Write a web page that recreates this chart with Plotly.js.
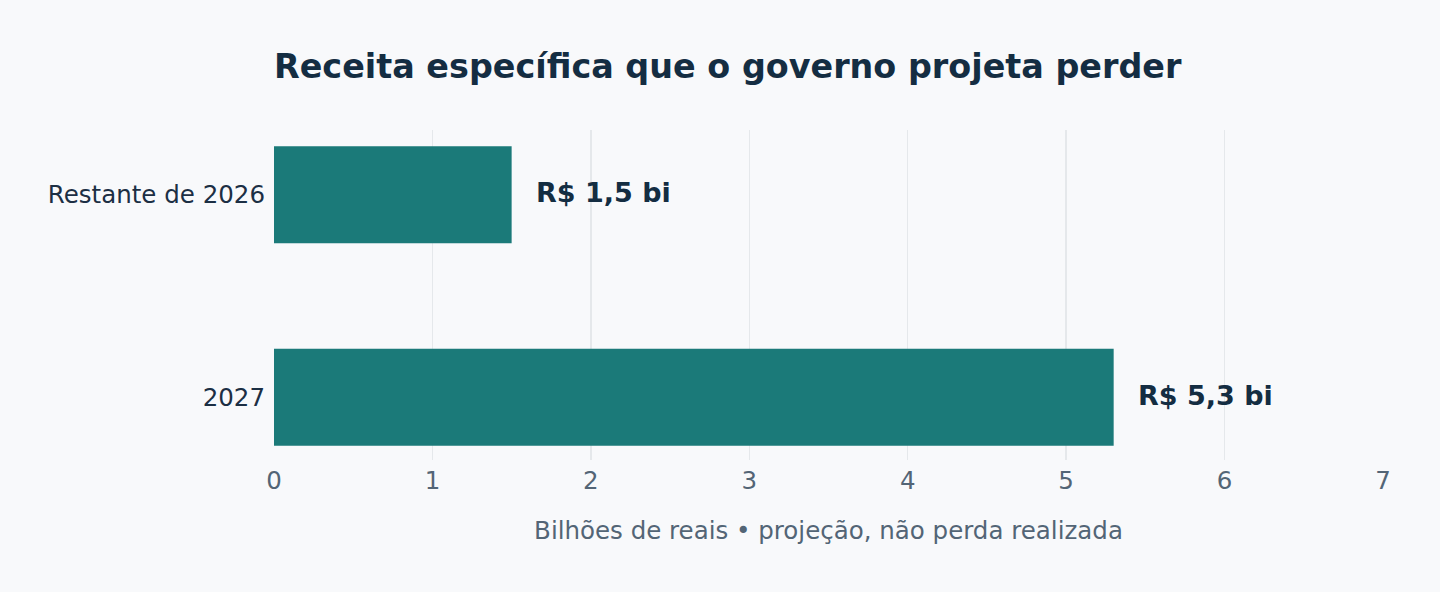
<!DOCTYPE html>
<html>
<head>
<meta charset="utf-8">
<script src="https://cdn.plot.ly/plotly-3.0.1.min.js"></script>
<style>
  html, body { margin: 0; padding: 0; background: #f8f9fb; }
  #chart { width: 1440px; height: 592px; }
</style>
</head>
<body>
<div id="chart"></div>
<script>
var categories = ["Restante de 2026", "2027"];
var values = [1.5, 5.3];
var valueLabels = ["R$ 1,5 bi", "R$ 5,3 bi"];
var xTicks = [0, 1, 2, 3, 4, 5, 6, 7];

var data = [
  {
    type: "bar",
    orientation: "h",
    y: categories,
    x: values,
    width: 0.48,
    marker: { color: "#1b7a79" },
    hoverinfo: "skip",
  },
];

// etiquetas de valor à direita das barras (y pelo índice da categoria)
var annotations = values.map(function (v, i) {
  return {
    x: v,
    y: i,
    xref: "x",
    yref: "y",
    text: "<b>" + valueLabels[i] + "</b>",
    showarrow: false,
    xanchor: "left",
    xshift: 22,
    yshift: 2,
    font: { family: "DejaVu Sans", size: 27, color: "#142d42" },
  };
});

var layout = {
  width: 1440,
  height: 592,
  paper_bgcolor: "#f8f9fb",
  plot_bgcolor: "#f8f9fb",
  margin: { l: 274, r: 57, t: 130, b: 132 },
  font: { family: "DejaVu Sans", color: "#142d42" },
  title: {
    text: "<b>Receita específica que o governo projeta perder</b>",
    x: 0,
    xref: "paper",
    xanchor: "left",
    y: 1 - 66 / 592,
    yref: "container",
    yanchor: "middle",
    font: { family: "DejaVu Sans", size: 33.4, color: "#142d42" },
  },
  xaxis: {
    range: [0, 7],
    tickvals: xTicks,
    showgrid: true,
    gridcolor: "#e5e8eb",
    gridwidth: 1.5,
    zeroline: false,
    showline: false,
    ticks: "",
    ticklabelstandoff: 3,
    tickfont: { size: 24.5, color: "#536576" },
    title: {
      text: "Bilhões de reais • projeção, não perda realizada",
      standoff: 28,
      font: { size: 24.5, color: "#536576" },
    },
  },
  yaxis: {
    type: "category",
    range: [1.31, -0.32],
    showgrid: false,
    zeroline: false,
    showline: false,
    ticks: "",
    ticklabelstandoff: 8,
    tickfont: { size: 24.5, color: "#1c2f44" },
  },
  annotations: annotations,
  showlegend: false,
};

Plotly.newPlot("chart", data, layout, { displayModeBar: false, staticPlot: true });
</script>
</body>
</html>
